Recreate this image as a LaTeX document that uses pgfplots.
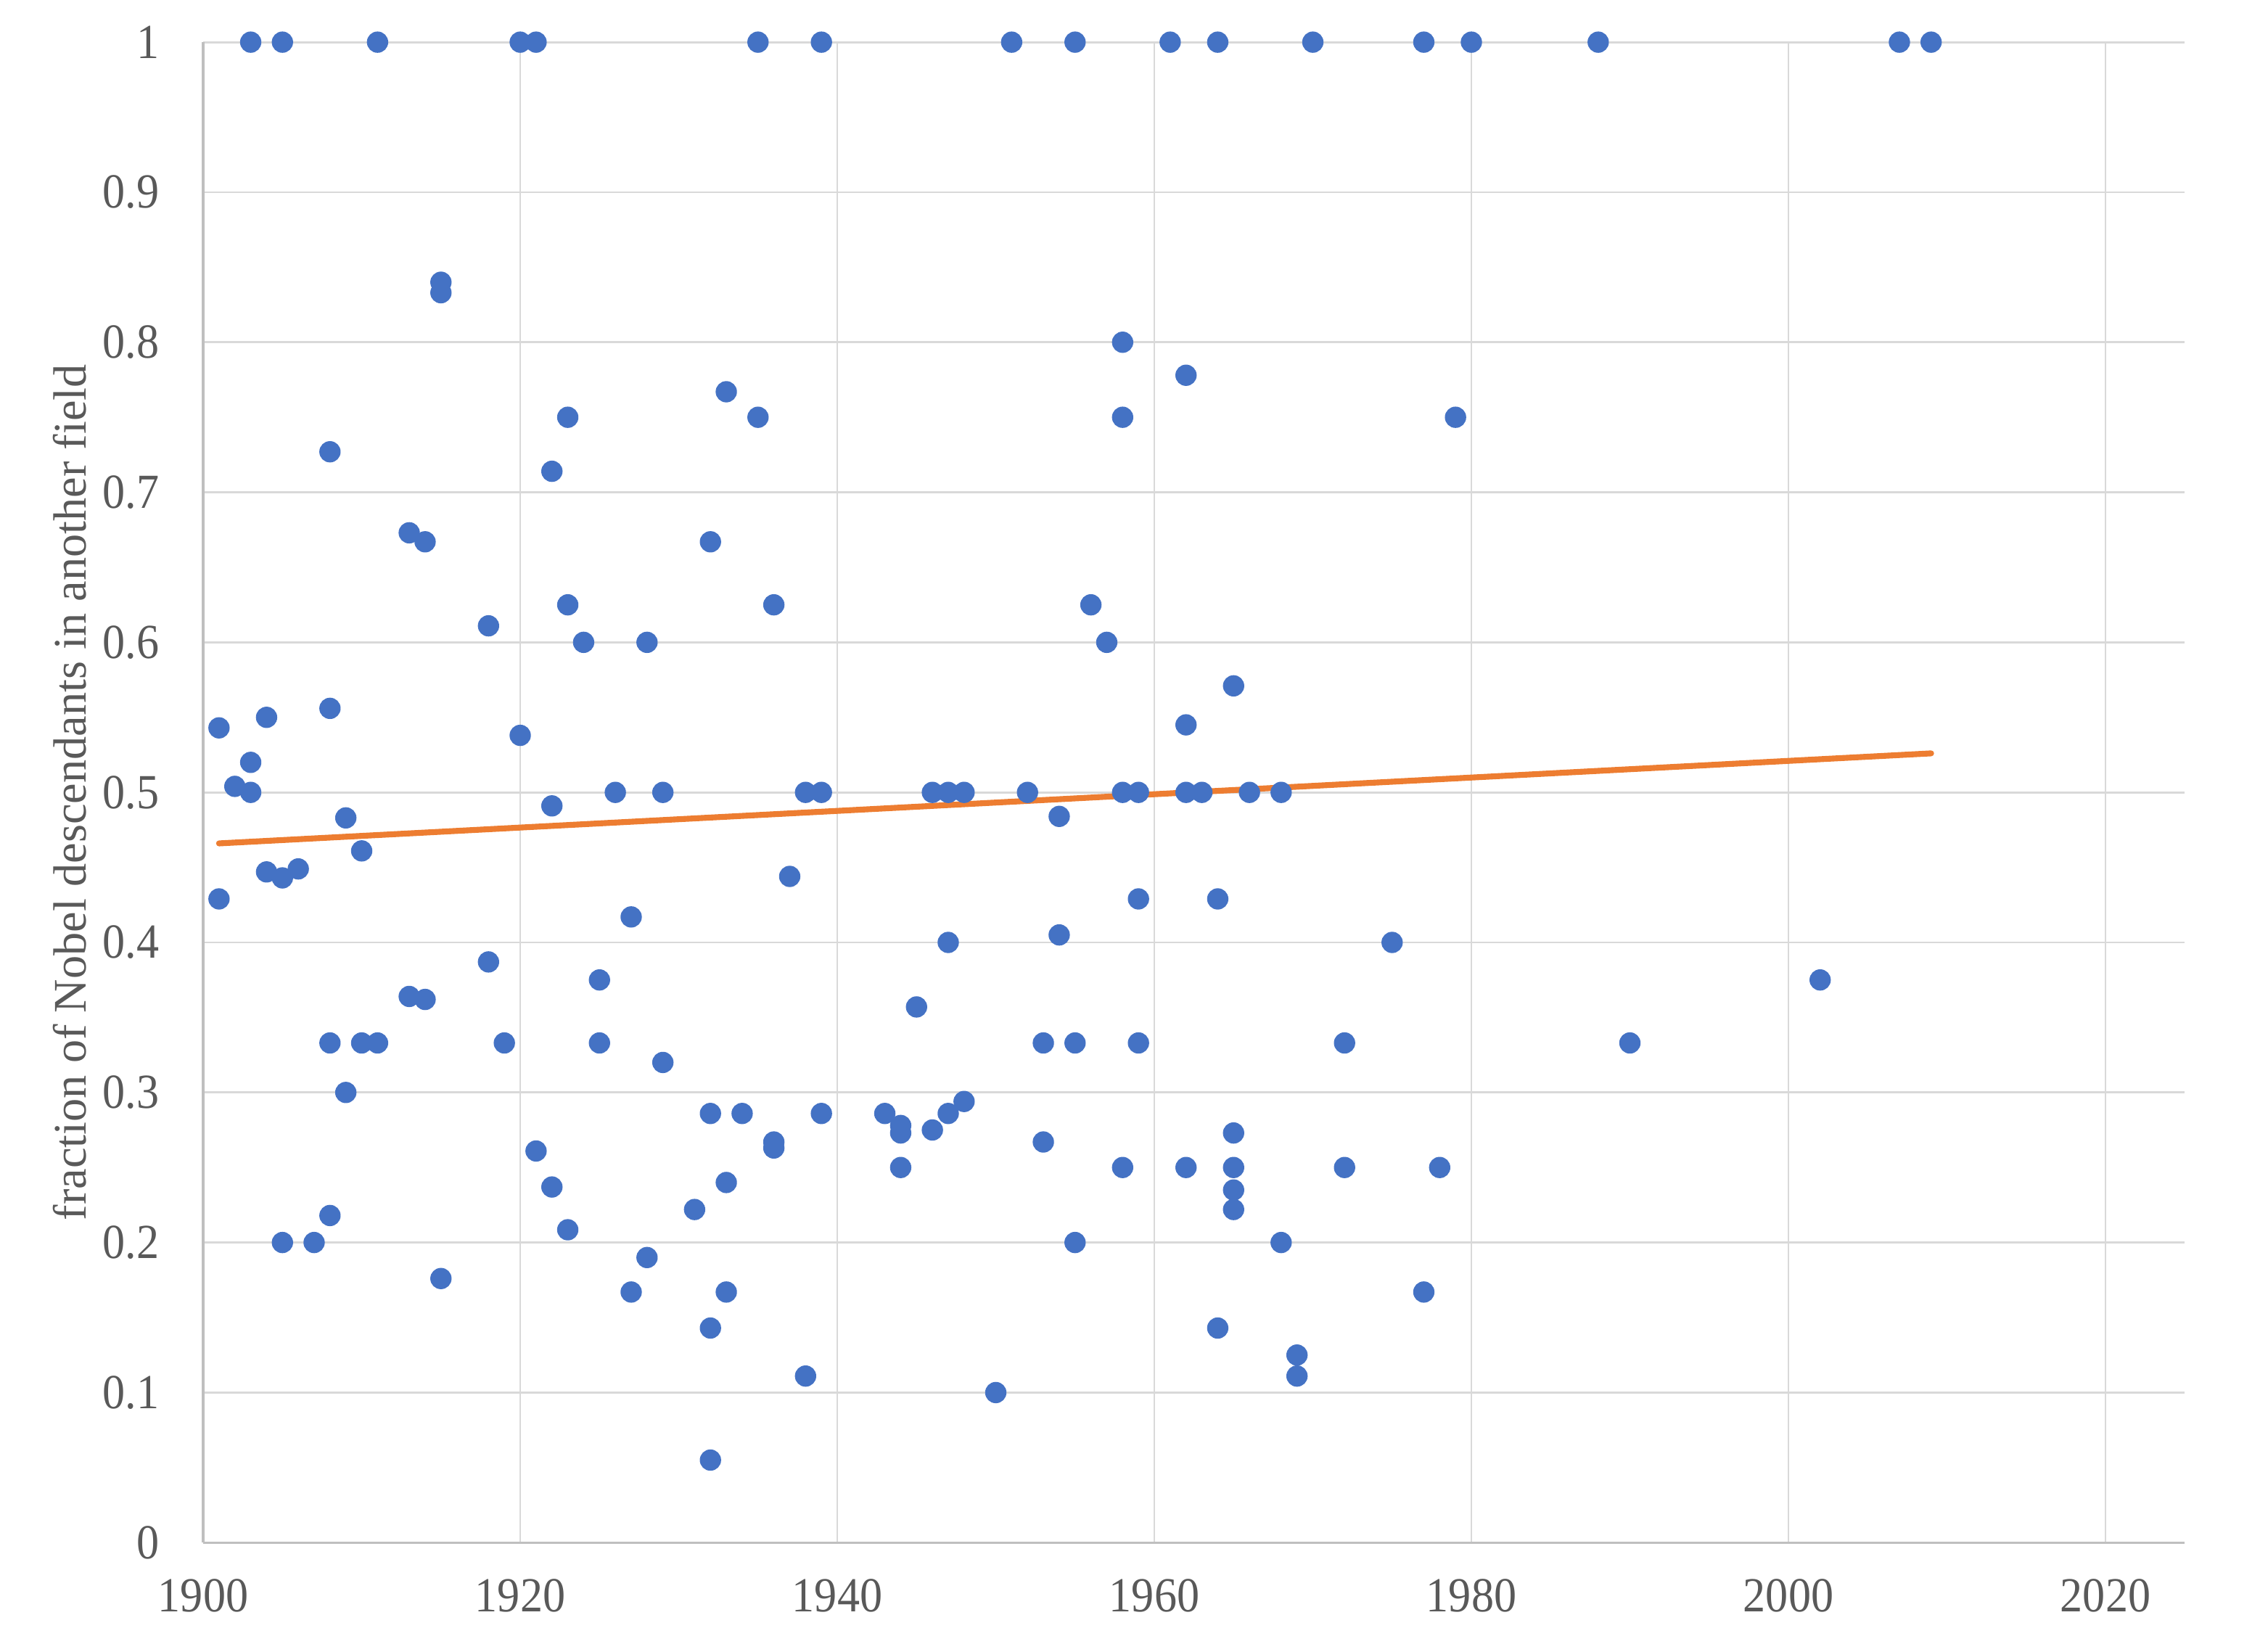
\documentclass[border=0pt]{standalone}
\usepackage{fontspec}
\setmainfont{Liberation Serif}[FakeStretch=0.92]
\newfontfamily\ylfont{Liberation Serif}
\usepackage{pgfplots}
\usepackage{pgfplotstable}
\pgfplotsset{compat=1.18}
\definecolor{ptblue}{HTML}{4472C4}
\definecolor{trendc}{HTML}{ED7D31}
\definecolor{gridc}{HTML}{D9D9D9}
\definecolor{axc}{HTML}{BFBFBF}
\definecolor{txt}{HTML}{595959}

\pgfplotstableread{
year frac
1901 0.543
1901 0.429
1902 0.504
1903 1
1903 0.52
1903 0.5
1904 0.55
1904 0.447
1905 1
1905 0.443
1905 0.2
1906 0.449
1907 0.2
1908 0.727
1908 0.556
1908 0.333
1908 0.218
1909 0.483
1909 0.3
1910 0.461
1910 0.333
1911 1
1911 0.333
1913 0.673
1913 0.364
1914 0.667
1914 0.362
1915 0.840
1915 0.833
1915 0.176
1918 0.611
1918 0.387
1919 0.333
1920 1
1920 0.538
1921 1
1921 0.261
1922 0.714
1922 0.491
1922 0.237
1923 0.75
1923 0.625
1923 0.2085
1924 0.6
1925 0.375
1925 0.333
1926 0.5
1927 0.417
1927 0.167
1928 0.6
1928 0.19
1929 0.5
1929 0.32
1931 0.222
1932 0.667
1932 0.286
1932 0.143
1932 0.055
1933 0.767
1933 0.24
1933 0.167
1934 0.286
1935 1
1935 0.75
1936 0.625
1936 0.267
1936 0.263
1937 0.444
1938 0.5
1938 0.111
1939 1
1939 0.5
1939 0.286
1943 0.286
1944 0.278
1944 0.273
1944 0.25
1945 0.357
1946 0.5
1946 0.275
1947 0.5
1947 0.4
1947 0.286
1948 0.5
1948 0.294
1950 0.1
1951 1
1952 0.5
1953 0.333
1953 0.267
1954 0.484
1954 0.405
1955 1
1955 0.333
1955 0.2
1956 0.625
1957 0.6
1958 0.8
1958 0.75
1958 0.5
1958 0.25
1959 0.5
1959 0.429
1959 0.333
1961 1
1962 0.778
1962 0.545
1962 0.5
1962 0.25
1963 0.5
1964 1
1964 0.429
1964 0.143
1965 0.571
1965 0.273
1965 0.25
1965 0.235
1965 0.222
1966 0.5
1968 0.5
1968 0.2
1969 0.125
1969 0.111
1970 1
1972 0.333
1972 0.25
1975 0.4
1977 1
1977 0.167
1978 0.25
1979 0.75
1980 1
1988 1
1990 0.333
2002 0.375
2007 1
2009 1
}\nobeldata

\begin{document}
\begin{tikzpicture}
\path[use as bounding box] (-44.8bp,-22.24bp) rectangle (455.36bp,340.2bp);
\begin{axis}[
  scale only axis,
  width=437bp, height=330.9bp,
  xmin=1900, xmax=2025, ymin=0, ymax=1,
  xtick={1900,1920,1940,1960,1980,2000,2020},
  ytick={0,0.1,0.2,0.3,0.4,0.5,0.6,0.7,0.8,0.9,1},
  axis x line*=bottom, axis y line*=left,
  axis line style={axc, line width=0.55bp, -},
  grid=major,
  major grid style={gridc, line width=0.45bp},
  tick style={draw=none},
  /pgf/number format/assume math mode=true,
  /pgf/number format/1000 sep={},
  ticklabel style={font=\fontsize{10.8bp}{13bp}\selectfont, text=txt},
  xticklabel style={yshift=-4.6bp},
  yticklabel style={xshift=-6.2bp},
  ylabel={\ylfont fraction of Nobel descendants in another field},
  every axis y label/.style={at={(axis description cs:-0.0673,0.5)}, anchor=center, rotate=90,
     font=\fontsize{10.3bp}{12bp}\selectfont, text=txt},
  clip=false,
]
\addplot[only marks, mark=*, mark size=2.15bp, mark options={draw=ptblue, fill=ptblue}] table[x=year, y=frac] {\nobeldata};
\addplot[trendc, line width=1.3bp, line cap=round, no marks] coordinates {(1901,0.466) (2009,0.526)};
\end{axis}
\end{tikzpicture}
\end{document}
